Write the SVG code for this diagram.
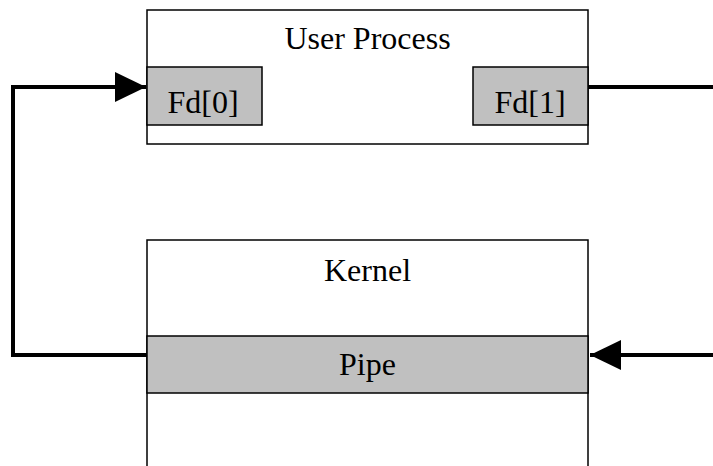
<svg xmlns="http://www.w3.org/2000/svg" width="713" height="466" viewBox="0 0 713 466">
  <style>
    .box { fill: #ffffff; stroke: #000000; stroke-width: 1.5; }
    .slot { fill: #c0c0c0; stroke: #000000; stroke-width: 1.5; }
    .label { font-family: "Liberation Serif", "Times New Roman", serif; font-size: 32px; fill: #000000; text-anchor: middle; }
    .wire { fill: none; stroke: #000000; stroke-width: 4; stroke-linejoin: miter; }
  </style>
  <defs>
    <marker id="arrowhead" markerUnits="userSpaceOnUse" markerWidth="32" markerHeight="30" refX="31" refY="15" orient="auto">
      <path d="M0,0 L31,15 L0,30 Z" fill="#000000"/>
    </marker>
  </defs>
  <rect width="713" height="466" fill="#ffffff"/>

  <g id="user-process">
    <rect class="box" x="147" y="10" width="441" height="134"/>
    <text class="label" x="367.5" y="49">User Process</text>
  </g>

  <g id="fd0">
    <rect class="slot" x="147" y="67" width="115" height="58"/>
    <text class="label" x="203" y="113">Fd[0]</text>
  </g>

  <g id="fd1">
    <rect class="slot" x="473" y="67" width="115" height="58"/>
    <text class="label" x="530" y="113">Fd[1]</text>
  </g>

  <g id="kernel">
    <rect class="box" x="147" y="240" width="441" height="240"/>
    <text class="label" x="367.5" y="281">Kernel</text>
  </g>

  <g id="pipe">
    <rect class="slot" x="147" y="336" width="441" height="57"/>
    <text class="label" x="367.5" y="375">Pipe</text>
  </g>

  <g id="connectors">
    <!-- pipe read end back up to Fd[0] -->
    <path class="wire" d="M147,355 L13,355 L13,87 L146,87" marker-end="url(#arrowhead)"/>
    <!-- Fd[1] write end leaving to the right -->
    <path class="wire" d="M588,87 L713,87"/>
    <!-- incoming into the pipe from the right -->
    <path class="wire" d="M713,355 L590,355" marker-end="url(#arrowhead)"/>
  </g>
</svg>
